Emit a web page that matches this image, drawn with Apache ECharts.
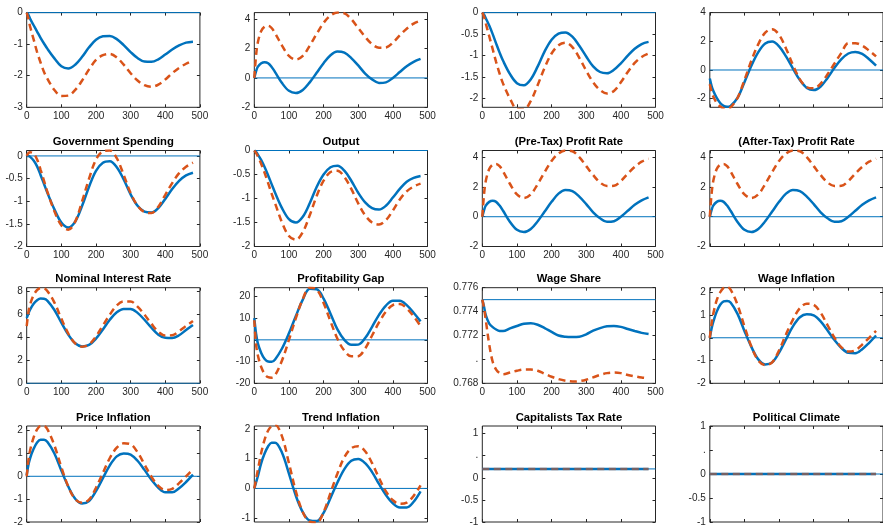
<!DOCTYPE html>
<html><head><meta charset="utf-8">
<script src="https://cdn.jsdelivr.net/npm/echarts@6/dist/echarts.min.js"></script>
<style>html,body{margin:0;padding:0;background:#fff}#c{width:883px;height:525px}</style>
</head><body><div id="c"></div><script>
const T = [0,5,10,20,30,40,50,60,80,100,120,140,160,180,200,220,240,260,280,300,320,340,360,380,400,420,440,460,480];
const baseX = [0,500];

const titles = ['', '', '', '', 'Government Spending', 'Output', '(Pre-Tax) Profit Rate', '(After-Tax) Profit Rate',
  'Nominal Interest Rate', 'Profitability Gap', 'Wage Share', 'Wage Inflation',
  'Price Inflation', 'Trend Inflation', 'Capitalists Tax Rate', 'Political Climate'];

// panel 1
const p1Blue = [0,-0.07,-0.2,-0.4,-0.6,-0.8,-0.98,-1.15,-1.45,-1.7,-1.77,-1.65,-1.4,-1.1,-0.86,-0.75,-0.74,-0.84,-1.03,-1.25,-1.44,-1.55,-1.56,-1.48,-1.33,-1.17,-1.04,-0.95,-0.92];
const p1Orange = [0,-0.2,-0.45,-0.85,-1.25,-1.58,-1.88,-2.1,-2.45,-2.64,-2.63,-2.45,-2.15,-1.8,-1.5,-1.35,-1.31,-1.42,-1.65,-1.92,-2.15,-2.3,-2.35,-2.28,-2.12,-1.92,-1.75,-1.62,-1.52];
// panel 2
const p2Blue = [0,0.45,0.75,1.0,1.07,1.0,0.75,0.4,-0.35,-0.88,-1.03,-0.82,-0.3,0.35,1.0,1.55,1.8,1.72,1.35,0.85,0.3,-0.1,-0.34,-0.3,0.0,0.4,0.8,1.1,1.3];
const p2Orange = [0,1.5,2.4,3.2,3.5,3.55,3.4,3.05,2.2,1.5,1.25,1.5,2.2,3.0,3.75,4.25,4.45,4.4,4.0,3.4,2.8,2.3,2.06,2.08,2.4,2.9,3.35,3.7,3.9];
// panel 3
const p3Blue = [0,-0.05,-0.13,-0.3,-0.5,-0.72,-0.93,-1.12,-1.43,-1.64,-1.69,-1.55,-1.25,-0.9,-0.63,-0.49,-0.46,-0.56,-0.77,-1.02,-1.25,-1.38,-1.41,-1.33,-1.18,-1.0,-0.84,-0.73,-0.68];
const p3Orange = [0,-0.1,-0.25,-0.55,-0.85,-1.15,-1.42,-1.65,-2.0,-2.24,-2.25,-2.05,-1.68,-1.28,-0.95,-0.76,-0.7,-0.8,-1.05,-1.35,-1.62,-1.8,-1.88,-1.82,-1.62,-1.38,-1.17,-1.03,-0.95];
// panel 4
const p4Blue = [-0.6,-1.1,-1.45,-1.95,-2.3,-2.5,-2.56,-2.5,-1.95,-0.85,0.3,1.25,1.85,1.98,1.65,0.95,0.1,-0.7,-1.25,-1.4,-1.15,-0.55,0.15,0.75,1.15,1.26,1.12,0.75,0.3];
const p4Orange = [-1.0,-1.5,-1.85,-2.3,-2.55,-2.68,-2.7,-2.6,-1.95,-0.7,0.65,1.8,2.6,2.84,2.45,1.5,0.35,-0.65,-1.2,-1.28,-0.95,-0.3,0.45,1.2,1.87,1.87,1.7,1.35,0.95];
// Government Spending
const govBlue = [0,0,-0.02,-0.1,-0.23,-0.42,-0.62,-0.82,-1.18,-1.47,-1.58,-1.45,-1.1,-0.68,-0.33,-0.15,-0.12,-0.25,-0.52,-0.85,-1.1,-1.23,-1.25,-1.15,-0.95,-0.73,-0.55,-0.43,-0.37];
const govOrange = [0,0.06,0.08,0.05,-0.08,-0.3,-0.55,-0.8,-1.22,-1.53,-1.63,-1.45,-1.0,-0.5,-0.08,0.1,0.12,-0.05,-0.42,-0.82,-1.1,-1.24,-1.26,-1.12,-0.86,-0.6,-0.38,-0.24,-0.15];
// Output
const outBlue = [0,-0.03,-0.08,-0.2,-0.35,-0.52,-0.7,-0.88,-1.2,-1.43,-1.5,-1.38,-1.1,-0.76,-0.5,-0.35,-0.32,-0.42,-0.63,-0.88,-1.08,-1.2,-1.23,-1.15,-0.98,-0.8,-0.65,-0.57,-0.53];
const outOrange = [0,-0.05,-0.12,-0.28,-0.47,-0.68,-0.9,-1.1,-1.5,-1.78,-1.86,-1.7,-1.35,-0.95,-0.63,-0.45,-0.42,-0.55,-0.8,-1.1,-1.35,-1.5,-1.54,-1.45,-1.25,-1.02,-0.85,-0.75,-0.69];
// (Pre-Tax) Profit Rate
const preBlue = [0,0.45,0.75,1.0,1.07,1.0,0.75,0.4,-0.35,-0.88,-1.03,-0.82,-0.3,0.35,1.0,1.55,1.8,1.72,1.35,0.85,0.3,-0.1,-0.34,-0.3,0.0,0.4,0.8,1.1,1.3];
const preOrange = [0,1.5,2.4,3.2,3.5,3.55,3.4,3.05,2.2,1.5,1.25,1.5,2.2,3.0,3.75,4.25,4.45,4.4,4.0,3.4,2.8,2.3,2.06,2.08,2.4,2.9,3.35,3.7,3.9];
// (After-Tax) Profit Rate
const aftBlue = [0,0.45,0.75,1.0,1.07,1.0,0.75,0.4,-0.35,-0.88,-1.03,-0.82,-0.3,0.35,1.0,1.55,1.8,1.72,1.35,0.85,0.3,-0.1,-0.34,-0.3,0.0,0.4,0.8,1.1,1.3];
const aftOrange = [0,1.5,2.4,3.2,3.5,3.55,3.4,3.05,2.2,1.5,1.25,1.5,2.2,3.0,3.75,4.25,4.45,4.4,4.0,3.4,2.8,2.3,2.06,2.08,2.4,2.9,3.35,3.7,3.9];
// Nominal Interest Rate
const nirBlue = [5.7,6.1,6.45,6.95,7.25,7.4,7.38,7.2,6.4,5.3,4.25,3.5,3.22,3.35,3.9,4.7,5.55,6.2,6.5,6.5,6.15,5.55,4.85,4.25,3.97,3.95,4.2,4.65,5.1];
const nirOrange = [5.0,6.2,6.9,7.7,8.15,8.3,8.28,8.05,7.05,5.65,4.35,3.48,3.2,3.4,4.1,5.05,6.0,6.8,7.15,7.15,6.7,6.0,5.2,4.5,4.18,4.2,4.55,5.0,5.45];
// Profitability Gap
const pgBlue = [10,3,-1.5,-6,-8.8,-10,-10.1,-9,-4,3,11,18.5,23.5,23.3,19,12,4.8,0,-2.3,-2.2,0.8,6,11.5,15.8,18,18,16,12.5,8.5];
const pgOrange = [9,-2,-7,-12.5,-15.8,-17.2,-17.4,-16.3,-9.5,0,10,18.8,24,23.2,17,8.5,0.5,-5,-7.6,-7.5,-4,2,8,13,16,16.5,14.5,10.8,6.3];
// Wage Share
const wsBlue = [0.775,0.7744,0.7737,0.773,0.7727,0.7725,0.77238,0.77237,0.7726,0.7728,0.77298,0.77302,0.7729,0.77262,0.7723,0.772,0.7719,0.77188,0.7719,0.7721,0.7724,0.77262,0.77277,0.7728,0.77272,0.77255,0.77238,0.77222,0.77212];
const wsOrange = [0.775,0.7743,0.7733,0.77125,0.7698,0.76915,0.76885,0.76875,0.7689,0.76905,0.76915,0.76915,0.76905,0.7688,0.76855,0.76835,0.76822,0.76815,0.76818,0.7683,0.7685,0.7687,0.76885,0.7689,0.76885,0.7687,0.76858,0.76848,0.76842];
// Wage Inflation
const wiBlue = [0,0.4,0.7,1.15,1.45,1.6,1.62,1.55,1.05,0.3,-0.4,-0.95,-1.17,-1.08,-0.65,-0.07,0.5,0.9,1.03,0.98,0.72,0.32,-0.1,-0.45,-0.66,-0.68,-0.5,-0.22,0.1];
const wiOrange = [0,0.6,1.05,1.65,2.0,2.2,2.24,2.12,1.45,0.5,-0.38,-1.0,-1.2,-1.08,-0.55,0.15,0.8,1.3,1.5,1.45,1.1,0.55,0.0,-0.42,-0.6,-0.55,-0.3,0.0,0.3];
// Price Inflation
const piBlue = [0.05,0.5,0.8,1.2,1.48,1.6,1.6,1.5,1.0,0.25,-0.45,-0.98,-1.19,-1.08,-0.65,-0.08,0.48,0.87,1.0,0.95,0.68,0.28,-0.15,-0.5,-0.7,-0.7,-0.52,-0.25,0.07];
const piOrange = [0,0.7,1.15,1.7,2.05,2.2,2.2,2.05,1.35,0.4,-0.45,-1.0,-1.16,-1.02,-0.5,0.15,0.8,1.25,1.44,1.4,1.05,0.52,-0.02,-0.42,-0.6,-0.55,-0.3,0.0,0.3];
// Trend Inflation
const tiBlue = [0,0.2,0.4,0.85,1.18,1.42,1.54,1.54,1.2,0.5,-0.25,-0.8,-1.08,-1.1,-0.82,-0.32,0.2,0.65,0.93,0.99,0.85,0.55,0.15,-0.22,-0.5,-0.64,-0.64,-0.45,-0.1];
const tiOrange = [0,0.3,0.6,1.2,1.65,1.95,2.1,2.14,1.75,0.85,-0.1,-0.8,-1.12,-1.15,-0.8,-0.15,0.5,1.05,1.35,1.42,1.25,0.85,0.35,-0.1,-0.4,-0.52,-0.48,-0.25,0.1];
// Capitalists Tax Rate
const ctBlue = [0.2,0.2,0.2,0.2,0.2,0.2,0.2,0.2,0.2,0.2,0.2,0.2,0.2,0.2,0.2,0.2,0.2,0.2,0.2,0.2,0.2,0.2,0.2,0.2,0.2,0.2,0.2,0.2,0.2];
const ctOrange = [0.2,0.2,0.2,0.2,0.2,0.2,0.2,0.2,0.2,0.2,0.2,0.2,0.2,0.2,0.2,0.2,0.2,0.2,0.2,0.2,0.2,0.2,0.2,0.2,0.2,0.2,0.2,0.2,0.2];
// Political Climate
const pcBlue = [0,0,0,0,0,0,0,0,0,0,0,0,0,0,0,0,0,0,0,0,0,0,0,0,0,0,0,0,0];
const pcOrange = [0,0,0,0,0,0,0,0,0,0,0,0,0,0,0,0,0,0,0,0,0,0,0,0,0,0,0,0,0];

const blueSeries = [p1Blue,p2Blue,p3Blue,p4Blue,govBlue,outBlue,preBlue,aftBlue,nirBlue,pgBlue,wsBlue,wiBlue,piBlue,tiBlue,ctBlue,pcBlue];
const orangeSeries = [p1Orange,p2Orange,p3Orange,p4Orange,govOrange,outOrange,preOrange,aftOrange,nirOrange,pgOrange,wsOrange,wiOrange,piOrange,tiOrange,ctOrange,pcOrange];
const baselines = [0,0,0,0,0,0,0,0,0,0,0.775,0,0,0,0.2,0];

const yMins = [-3,-2,-2.2,-2.6,-2,-2,-2,-2,0,-20,0.768,-2,-2,-1.13,-1,-1];
const yMaxs = [0,4.45,0,4,0.12,0,4.45,4.45,8.35,24,0.776,2.2,2.2,2.1,1.17,1];

const yTicks = [
  [-3,-2,-1,0], [-2,0,2,4], [-2,-1.5,-1,-0.5,0], [-2,0,2,4],
  [-2,-1.5,-1,-0.5,0], [-2,-1.5,-1,-0.5,0], [-2,0,2,4], [-2,0,2,4],
  [0,2,4,6,8], [-20,-10,0,10,20], [0.768,0.770,0.772,0.774,0.776], [-2,-1,0,1,2],
  [-2,-1,0,1,2], [-1,0,1,2], [-1,-0.5,0,0.5,1], [-1,-0.5,0,0.5,1]
];
const yTickLabels = [
  ['-3','-2','-1','0'], ['-2','0','2','4'], ['-2','-1.5','-1','-0.5','0'], ['-2','0','2','4'],
  ['-2','-1.5','-1','-0.5','0'], ['-2','-1.5','-1','-0.5','0'], ['-2','0','2','4'], ['-2','0','2','4'],
  ['0','2','4','6','8'], ['-20','-10','0','10','20'], ['0.768','.','0.772','0.774','0.776'], ['-2','-1','0','1','2'],
  ['-2','-1','0','1','2'], ['-1','0','1','2'], ['-1','-0.5','0','.','1'], ['-1','-0.5','0','.','1']
];
const xTicks = [0,100,200,300,400,500];
const xTickLabels = ['0','100','200','300','400','500'];

const FONT = 'Liberation Sans, Arial, Helvetica, sans-serif';
const BLUE = '#0072BD', ORANGE = '#D95319', AX = '#262626';
const colLeft = [26.7, 254.3, 482.3, 709.8];
const colW = 173.2;
const rowTop = [12.6, 150.5, 287.7, 426];
const rowH = [94.7, 96, 95.6, 96];

const grid = [], xAxis = [], yAxis = [], series = [];
for (let i = 0; i < 16; i++) {
  const r = Math.floor(i / 4), c = i % 4;
  grid.push({left: colLeft[c], top: rowTop[r], width: colW, height: rowH[r], show: true,
    borderColor: AX, borderWidth: 1, backgroundColor: 'transparent', containLabel: false, outerBoundsMode: 'none'});
  const tickStyle = {inside: true, length: 3, lineStyle: {color: AX, width: 1}};
  xAxis.push({type: 'value', gridIndex: i, min: 0, max: 500, position: 'bottom',
    axisLine: {show: false, onZero: false}, splitLine: {show: false},
    axisTick: Object.assign({customValues: xTicks}, tickStyle),
    axisLabel: {show: c < 3, customValues: xTicks, margin: 4, fontSize: 10, color: AX, fontFamily: FONT,
      formatter: v => { const k = xTicks.findIndex(t => Math.abs(t - v) < 1e-9); return k >= 0 ? xTickLabels[k] : ''; }}});
  xAxis.push({type: 'value', gridIndex: i, min: 0, max: 500, position: 'top',
    axisLine: {show: false, onZero: false}, splitLine: {show: false},
    axisTick: Object.assign({customValues: xTicks}, tickStyle),
    axisLabel: {show: false},
    name: titles[i], nameLocation: 'middle', nameGap: 3,
    nameTextStyle: {fontWeight: 'bold', fontSize: 11.3, color: '#000', fontFamily: FONT}});
  const ticks = yTicks[i], labs = yTickLabels[i];
  yAxis.push({type: 'value', gridIndex: i, min: yMins[i], max: yMaxs[i], position: 'left',
    axisLine: {show: false, onZero: false}, splitLine: {show: false},
    axisTick: Object.assign({customValues: ticks}, tickStyle),
    axisLabel: {customValues: ticks, margin: 4, fontSize: 10, color: AX, fontFamily: FONT,
      formatter: v => { const k = ticks.findIndex(t => Math.abs(t - v) < 1e-9); return k >= 0 ? labs[k] : ''; }}});
  yAxis.push({type: 'value', gridIndex: i, min: yMins[i], max: yMaxs[i], position: 'right',
    axisLine: {show: false, onZero: false}, splitLine: {show: false},
    axisTick: Object.assign({customValues: ticks}, tickStyle),
    axisLabel: {show: false}});
  const flat = i >= 14;
  series.push({type: 'line', xAxisIndex: 2 * i, yAxisIndex: 2 * i,
    data: baseX.map(x => [x, baselines[i]]), showSymbol: false, silent: true,
    lineStyle: {color: BLUE, width: 1}, itemStyle: {color: BLUE}, z: 2});
  series.push({type: 'line', xAxisIndex: 2 * i, yAxisIndex: 2 * i,
    data: T.map((t, k) => [t, blueSeries[i][k]]), showSymbol: false, smooth: 0.35,
    lineStyle: {color: BLUE, width: 2.5}, itemStyle: {color: BLUE}, z: 3});
  series.push({type: 'line', xAxisIndex: 2 * i, yAxisIndex: 2 * i,
    data: T.map((t, k) => [t, orangeSeries[i][k]]), showSymbol: false, smooth: 0.35,
    lineStyle: {color: ORANGE, width: 2.5, type: [7, 4.5], opacity: flat ? 0.55 : 1}, itemStyle: {color: ORANGE}, z: 4});
}

const chart = echarts.init(document.getElementById('c'), null, {renderer: 'canvas'});
chart.setOption({animation: false, backgroundColor: '#fff', grid, xAxis, yAxis, series});
</script></body></html>
